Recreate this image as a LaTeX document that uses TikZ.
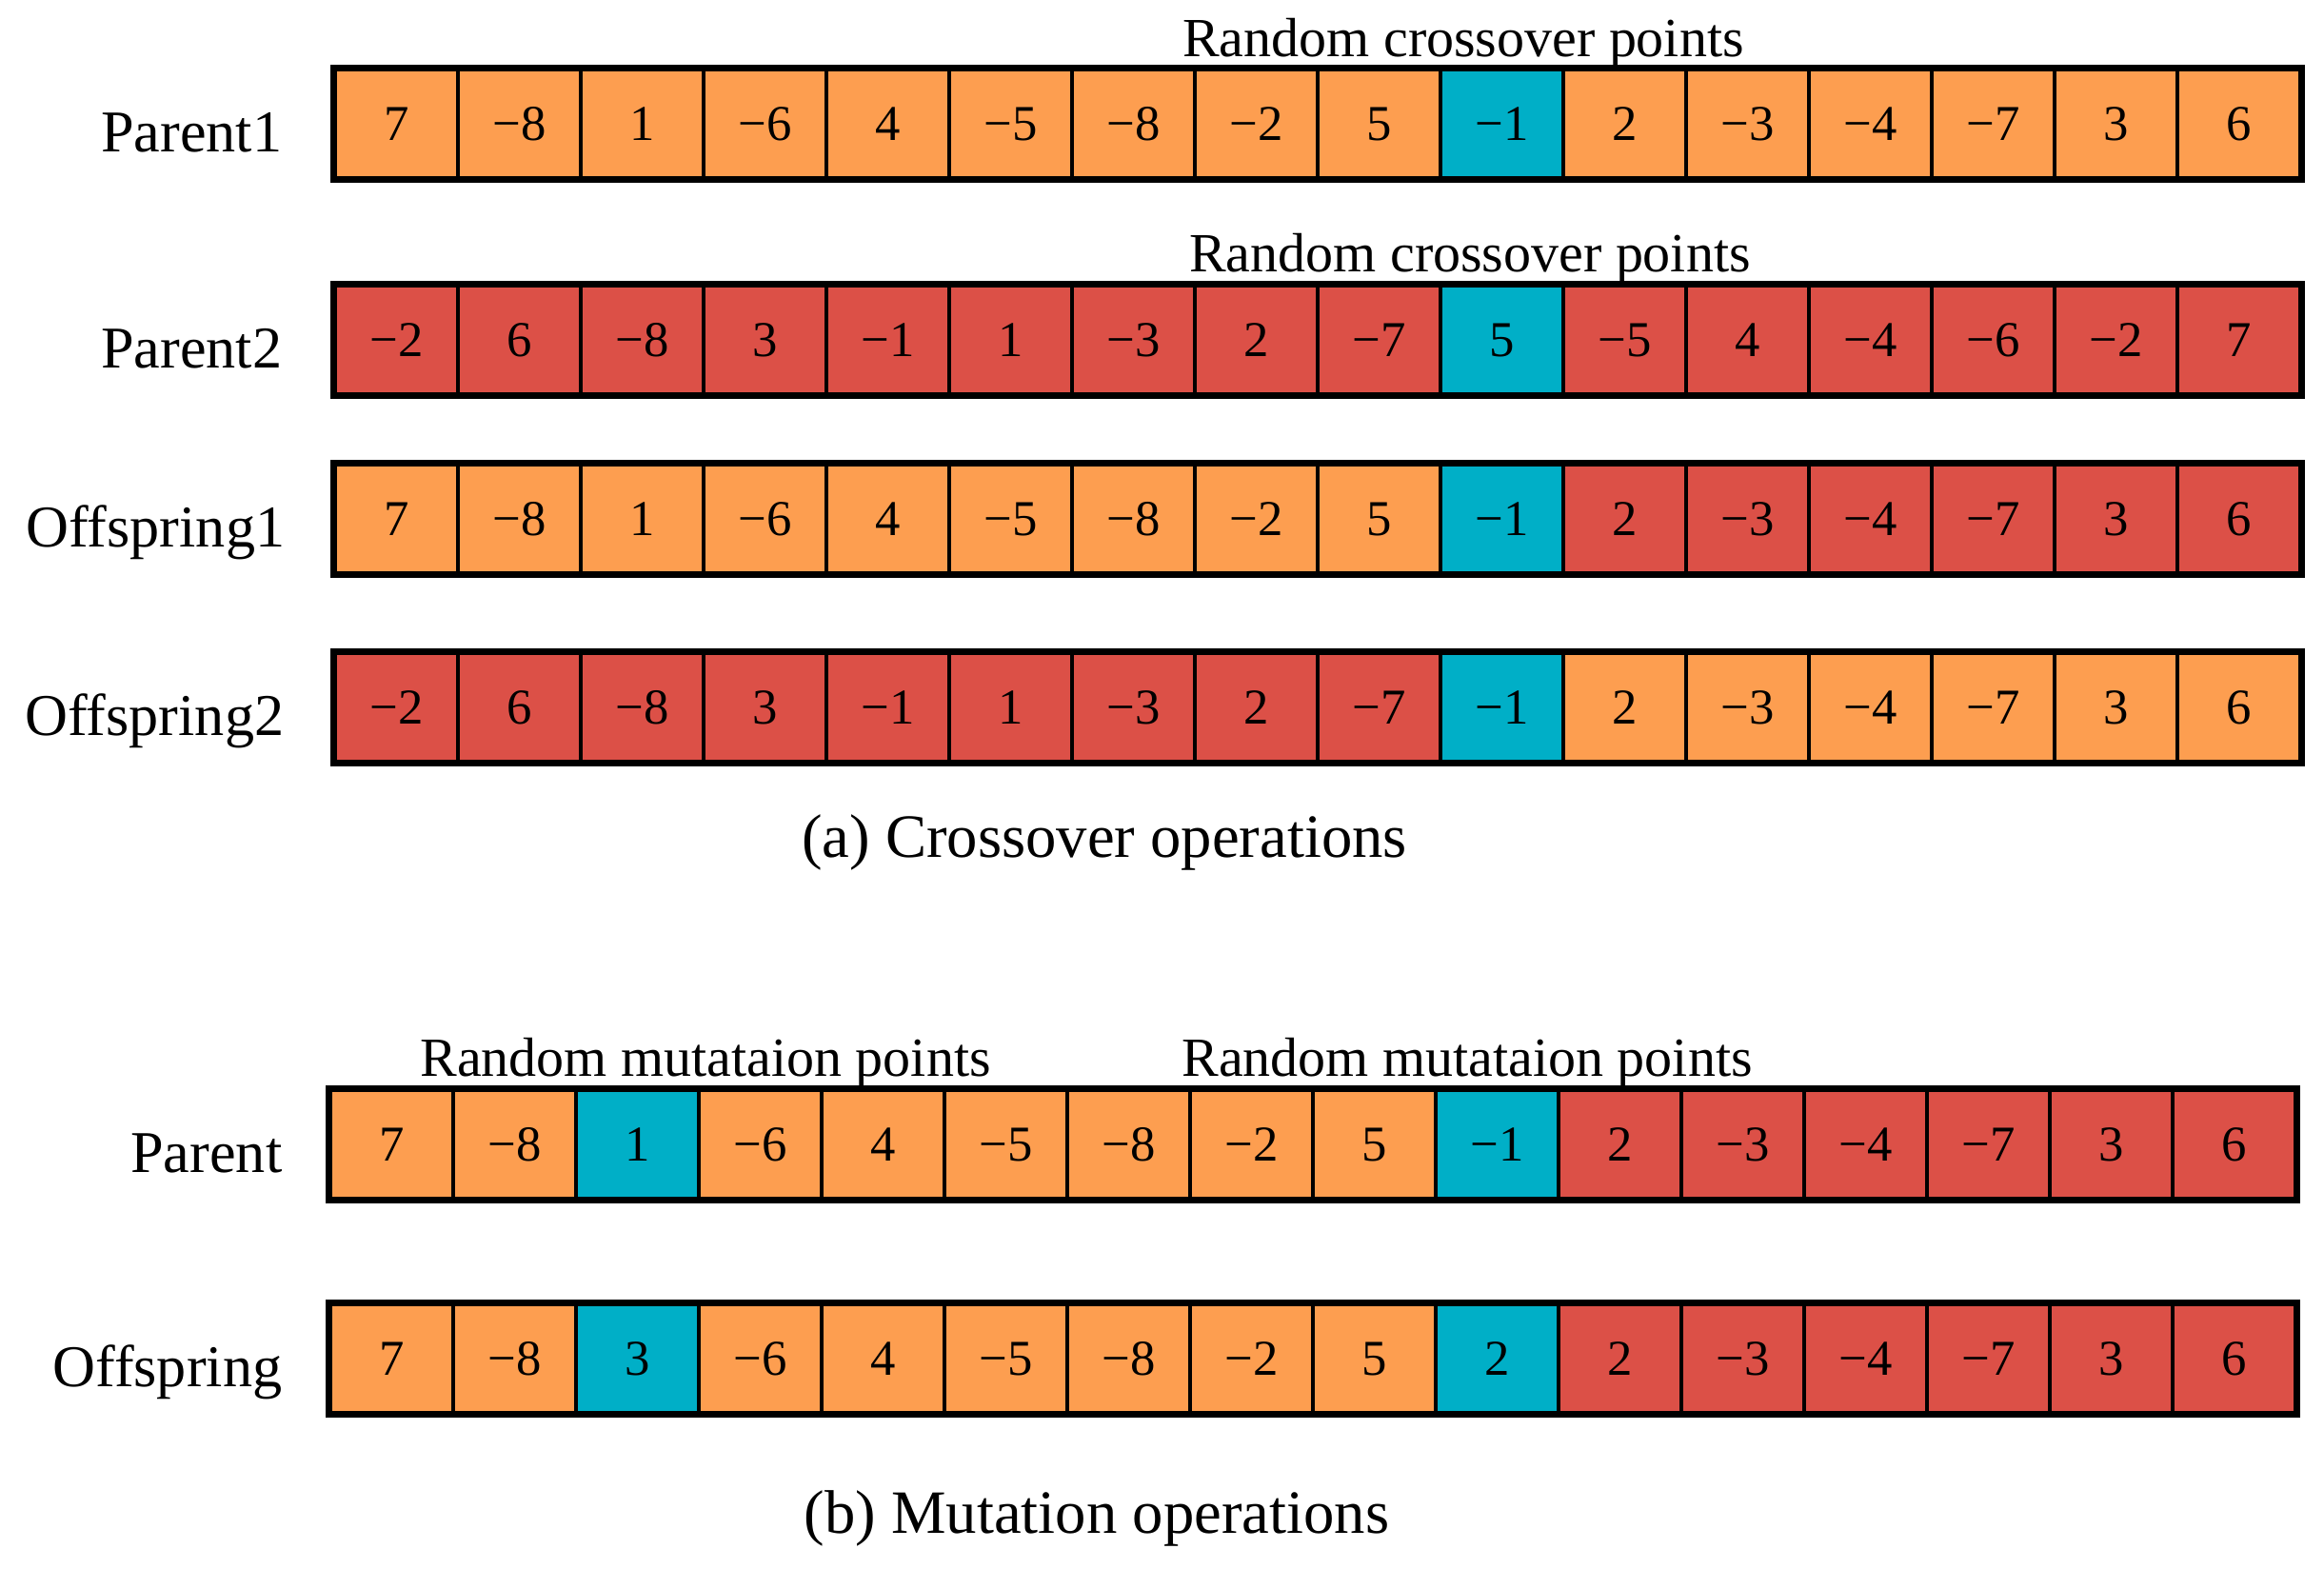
\documentclass[tikz,border=0pt]{standalone}
\usepackage{fontspec}
\setmainfont{Liberation Serif}
\definecolor{co}{RGB}{253,158,80}
\definecolor{cr}{RGB}{220,80,71}
\definecolor{cb}{RGB}{0,175,199}
\tikzset{
  cell/.style={draw, line width=1.4pt, minimum width=1.29cm, minimum height=1.14cm,
    inner sep=0pt, font=\fontsize{15}{18}\selectfont},
  outer/.style={line width=1.6pt},
  lbl/.style={anchor=base east, inner sep=0pt, font=\fontsize{17.7}{20}\selectfont},
  note/.style={anchor=base, inner sep=0pt, font=\fontsize{16.5}{19}\selectfont},
  subcap/.style={anchor=base, inner sep=0pt, font=\fontsize{18.4}{21}\selectfont},
}
\begin{document}
\begin{tikzpicture}
    \useasboundingbox (0,0) rectangle (24.41,-16.48);

    % parent 1
    \foreach \v/\c [count=\i] in {7/co, −8/co, 1/co, −6/co, 4/co, −5/co, −8/co, −2/co,
        5/co, −1/cb, 2/co, −3/co, −4/co, −7/co, 3/co, 6/co}
        \node[cell, fill=\c] (p1-\i) at ({3.52+1.29*(\i-0.5)}, -1.30) {\v};
    \draw[outer] (p1-1.north west) rectangle (p1-16.south east);

    % parent 2
    \foreach \v/\c [count=\i] in {−2/cr, 6/cr, −8/cr, 3/cr, −1/cr, 1/cr, −3/cr, 2/cr,
        −7/cr, 5/cb, −5/cr, 4/cr, −4/cr, −6/cr, −2/cr, 7/cr}
        \node[cell, fill=\c] (p2-\i) at ({3.52+1.29*(\i-0.5)}, -3.57) {\v};
    \draw[outer] (p2-1.north west) rectangle (p2-16.south east);

    % offspring 1
    \foreach \v/\c [count=\i] in {7/co, −8/co, 1/co, −6/co, 4/co, −5/co, −8/co, −2/co,
        5/co, −1/cb, 2/cr, −3/cr, −4/cr, −7/cr, 3/cr, 6/cr}
        \node[cell, fill=\c] (o1-\i) at ({3.52+1.29*(\i-0.5)}, -5.45) {\v};
    \draw[outer] (o1-1.north west) rectangle (o1-16.south east);

    % offspring 2
    \foreach \v/\c [count=\i] in {−2/cr, 6/cr, −8/cr, 3/cr, −1/cr, 1/cr, −3/cr, 2/cr,
        −7/cr, −1/cb, 2/co, −3/co, −4/co, −7/co, 3/co, 6/co}
        \node[cell, fill=\c] (o2-\i) at ({3.52+1.29*(\i-0.5)}, -7.43) {\v};
    \draw[outer] (o2-1.north west) rectangle (o2-16.south east);

    % mutation parent
    \foreach \v/\c [count=\i] in {7/co, −8/co, 1/cb, −6/co, 4/co, −5/co, −8/co, −2/co,
        5/co, −1/cb, 2/cr, −3/cr, −4/cr, −7/cr, 3/cr, 6/cr}
        \node[cell, fill=\c] (mp-\i) at ({3.47+1.29*(\i-0.5)}, -12.02) {\v};
    \draw[outer] (mp-1.north west) rectangle (mp-16.south east);

    % mutation offspring
    \foreach \v/\c [count=\i] in {7/co, −8/co, 3/cb, −6/co, 4/co, −5/co, −8/co, −2/co,
        5/co, 2/cb, 2/cr, −3/cr, −4/cr, −7/cr, 3/cr, 6/cr}
        \node[cell, fill=\c] (mo-\i) at ({3.47+1.29*(\i-0.5)}, -14.27) {\v};
    \draw[outer] (mo-1.north west) rectangle (mo-16.south east);

    % row names
    \node[lbl] (l-p1) at (2.97,-1.59) {Parent1};
    \node[lbl] (l-p2) at (2.97,-3.86) {Parent2};
    \node[lbl] (l-o1) at (3.00,-5.74) {Offspring1};
    \node[lbl] (l-o2) at (2.99,-7.72) {Offspring2};
    \node[lbl] (l-mp) at (2.97,-12.31) {Parent};
    \node[lbl] (l-mo) at (2.97,-14.56) {Offspring};

    % points
    \node[note] (n-p1) at (15.37,-0.59) {Random crossover points};
    \node[note] (n-p2) at (15.44,-2.85) {Random crossover points};
    \node[note] (n-m1) at (7.41,-11.30) {Random mutataion points};
    \node[note] (n-m2) at (15.41,-11.30) {Random mutataion points};

    % captions
    \node[subcap] (cap-a) at (11.60,-9.00) {(a) Crossover operations};
    \node[subcap] (cap-b) at (11.52,-16.10) {(b) Mutation operations};
\end{tikzpicture}
\end{document}
